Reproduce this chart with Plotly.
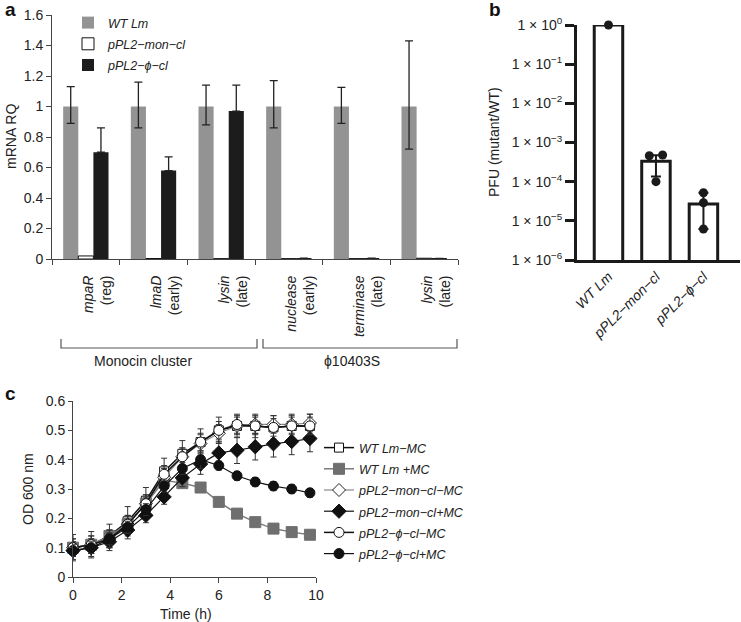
import plotly.graph_objects as go
import numpy as np

W, H = 741, 622
FONT = "Liberation Sans, Arial, Helvetica, sans-serif"

# ---------------- Panel a data ----------------
genes = ["mpaR", "lmaD", "lysin", "nuclease", "terminase", "lysin"]
stages = ["(reg)", "(early)", "(late)", "(early)", "(late)", "(late)"]
wt_rq = [1.0, 1.0, 1.0, 1.0, 1.0, 1.0]
wt_err_plus = [0.13, 0.16, 0.14, 0.17, 0.125, 0.43]
wt_err_minus = [0.11, 0.14, 0.12, 0.14, 0.11, 0.28]
mon_rq = [0.02, 0.003, 0.002, 0.002, 0.002, 0.005]
phi_rq = [0.70, 0.58, 0.97, 0.006, 0.005, 0.004]
phi_err = [0.16, 0.09, 0.17, 0.0, 0.0, 0.0]
group_names = ["Monocin cluster", "ϕ10403S"]

# ---------------- Panel b data ----------------
strains_b = ["WT Lm", "pPL2−mon−cl", "pPL2−ϕ−cl"]
pfu_mean = [1.0, 3.3e-4, 2.7e-5]
pfu_upper = [1.0, 4.7e-4, 5.2e-5]
pfu_lower = [1.0, 1.35e-4, 6.2e-6]
pfu_reps = [[1.0], [4.6e-4, 4.8e-4, 1.0e-4], [5.2e-5, 2.9e-5, 6.2e-6]]
pfu_ticks = [1e-6, 1e-5, 1e-4, 1e-3, 1e-2, 1e-1, 1e0]
pfu_ticktext = ["1 × 10<sup>−6</sup>", "1 × 10<sup>−5</sup>", "1 × 10<sup>−4</sup>",
                "1 × 10<sup>−3</sup>", "1 × 10<sup>−2</sup>", "1 × 10<sup>−1</sup>",
                "1 × 10<sup>0</sup>"]

# ---------------- Panel c data ----------------
time_h = [0, 0.75, 1.5, 2.25, 3, 3.75, 4.5, 5.25, 6, 6.75, 7.5, 8.25, 9, 9.75]
od_wt_minus = [0.10, 0.11, 0.14, 0.19, 0.26, 0.36, 0.42, 0.46, 0.50, 0.515, 0.515, 0.51, 0.515, 0.515]
od_wt_plus = [0.10, 0.11, 0.14, 0.18, 0.25, 0.33, 0.32, 0.305, 0.256, 0.216, 0.187, 0.165, 0.153, 0.144]
od_mon_minus = [0.10, 0.11, 0.13, 0.18, 0.25, 0.34, 0.41, 0.455, 0.49, 0.515, 0.52, 0.52, 0.52, 0.525]
od_mon_plus = [0.09, 0.10, 0.12, 0.16, 0.21, 0.273, 0.338, 0.385, 0.423, 0.432, 0.444, 0.454, 0.462, 0.472]
od_phi_minus = [0.10, 0.11, 0.13, 0.18, 0.25, 0.35, 0.41, 0.46, 0.50, 0.52, 0.515, 0.51, 0.515, 0.515]
od_phi_plus = [0.09, 0.10, 0.13, 0.17, 0.23, 0.31, 0.37, 0.40, 0.38, 0.345, 0.324, 0.31, 0.30, 0.287]
err_wt_minus = [0.045, 0.045, 0.04, 0.05, 0.045, 0.045, 0.045, 0.045, 0.045, 0.04, 0.04, 0.04, 0.04, 0.04]
err_wt_plus = [0.02, 0.02, 0.02, 0.02, 0.02, 0.02, 0.015, 0.015, 0.015, 0.015, 0.015, 0.015, 0.015, 0.015]
err_mon_minus = [0.03, 0.03, 0.03, 0.03, 0.03, 0.03, 0.03, 0.03, 0.03, 0.03, 0.03, 0.03, 0.03, 0.03]
err_mon_plus = [0.03, 0.03, 0.03, 0.03, 0.025, 0.025, 0.03, 0.035, 0.04, 0.045, 0.045, 0.045, 0.045, 0.045]
err_phi_minus = [0.03, 0.03, 0.03, 0.03, 0.03, 0.03, 0.03, 0.03, 0.03, 0.03, 0.03, 0.03, 0.03, 0.03]
err_phi_plus = [0.02, 0.02, 0.02, 0.02, 0.02, 0.02, 0.02, 0.03, 0.015, 0.015, 0.015, 0.015, 0.015, 0.015]
legend_c = ["WT Lm−MC", "WT Lm +MC", "pPL2−mon−cl−MC", "pPL2−mon−cl+MC", "pPL2−ϕ−cl−MC", "pPL2−ϕ−cl+MC"]


def px_x(p):
    return p / W


def px_y(p):
    return 1 - p / H


def leg_name(s):
    return "<span style='font-size:12.5px'><i>%s</i></span>" % s


fig = go.Figure()

# ---------- Panel a ----------
idx_a = list(range(len(genes)))
ERR_A = dict(color="#222", thickness=1.3, width=4)
fig.add_trace(go.Bar(x=idx_a, y=wt_rq, name=leg_name("WT Lm"), marker=dict(color="#939393", line=dict(width=0)),
                     error_y=dict(type="data", array=wt_err_plus, arrayminus=wt_err_minus, symmetric=False, **ERR_A),
                     xaxis="x", yaxis="y", legend="legend"))
fig.add_trace(go.Bar(x=idx_a, y=mon_rq, name=leg_name("pPL2−mon−cl"),
                     marker=dict(color="white", line=dict(color="#111", width=1)),
                     xaxis="x", yaxis="y", legend="legend"))
fig.add_trace(go.Bar(x=idx_a, y=phi_rq, name=leg_name("pPL2−ϕ−cl"), marker=dict(color="#1c1c1c", line=dict(width=0)),
                     error_y=dict(type="data", array=phi_err, arrayminus=[0] * 6, symmetric=False, **ERR_A),
                     xaxis="x", yaxis="y", legend="legend"))

# ---------- Panel b ----------
idx_b = list(range(len(strains_b)))
fig.add_trace(go.Bar(x=idx_b, y=pfu_mean, width=0.6, marker=dict(color="white", line=dict(color="#1a1a1a", width=3)),
                     error_y=dict(type="data", symmetric=False,
                                  array=[u - m for u, m in zip(pfu_upper, pfu_mean)],
                                  arrayminus=[m - l for m, l in zip(pfu_mean, pfu_lower)],
                                  color="#1a1a1a", thickness=2, width=5),
                     xaxis="x2", yaxis="y2", showlegend=False))
JITTER = {1: [-0.14, 0.14, 0.0]}
dx, dy = [], []
for i, reps in enumerate(pfu_reps):
    offs = JITTER.get(i, [0.0] * len(reps))
    for o, v in zip(offs, reps):
        dx.append(i + o)
        dy.append(v)
fig.add_trace(go.Scatter(x=dx, y=dy, mode="markers", marker=dict(color="#1a1a1a", size=9),
                         cliponaxis=False, xaxis="x2", yaxis="y2", showlegend=False))

# ---------- Panel c ----------
series_c = [
    (od_wt_minus, err_wt_minus, dict(symbol="square", size=9, color="white", line=dict(color="#111", width=1)), dict(color="#111", width=1.5)),
    (od_wt_plus, err_wt_plus, dict(symbol="square", size=11, color="#6f6f6f", line=dict(color="#6f6f6f", width=1)), dict(color="#7a7a7a", width=1.5)),
    (od_mon_minus, err_mon_minus, dict(symbol="diamond", size=10, color="white", line=dict(color="#222", width=1)), dict(color="#8a8a8a", width=1.2)),
    (od_mon_plus, err_mon_plus, dict(symbol="diamond", size=11, color="#111", line=dict(color="#111", width=1)), dict(color="#111", width=1.2)),
    (od_phi_minus, err_phi_minus, dict(symbol="circle", size=10, color="white", line=dict(color="#111", width=1)), dict(color="#111", width=1.5)),
    (od_phi_plus, err_phi_plus, dict(symbol="circle", size=10, color="#111", line=dict(color="#111", width=1)), dict(color="#111", width=1.2)),
]
for (vals, errs, mk, ln), name in zip(series_c, legend_c):
    fig.add_trace(go.Scatter(x=time_h, y=vals, mode="lines+markers", name=leg_name(name),
                             marker=mk, line=ln, cliponaxis=False,
                             error_y=dict(type="data", array=errs, color="#333", thickness=1, width=3),
                             xaxis="x3", yaxis="y3", legend="legend2"))

AX = dict(showgrid=False, zeroline=False, showline=True, ticks="outside", automargin=False,
          tickfont=dict(family=FONT, size=14, color="#222"))

fig.update_layout(
    width=W, height=H, margin=dict(l=0, r=0, t=0, b=0, pad=0, autoexpand=False),
    paper_bgcolor="white", plot_bgcolor="white",
    font=dict(family=FONT, size=14, color="#222"),
    barmode="group", bargap=0.33, bargroupgap=0,
    xaxis=dict(AX, domain=[px_x(52), px_x(458)], range=[-0.5, 5.5], anchor="y",
               tickmode="array", tickvals=idx_a,
               ticktext=["<i>%s</i><br>%s" % (g, s) for g, s in zip(genes, stages)],
               ticks="", tickangle=-90, linecolor="#444", linewidth=1, ticklabelshift=12, ticklabelstandoff=10,
               minor=dict(tickmode="linear", tick0=-0.5, dtick=1, ticks="outside", ticklen=5, tickcolor="#444")),
    yaxis=dict(AX, domain=[px_y(259), px_y(15)], range=[0, 1.6], anchor="x",
               tickvals=[0, 0.2, 0.4, 0.6, 0.8, 1.0, 1.2, 1.4, 1.6],
               linecolor="#444", linewidth=1, ticklen=5, tickcolor="#444"),
    xaxis2=dict(AX, domain=[px_x(577), px_x(740)], range=[-0.663, 2.77], anchor="y2",
                tickmode="array", tickvals=idx_b, ticktext=["<i>%s</i>" % s for s in strains_b],
                ticks="", tickangle=-45, linecolor="#1a1a1a", linewidth=3),
    yaxis2=dict(AX, domain=[px_y(260), px_y(25)], type="log", range=[-6, 0], anchor="x2",
                tickmode="array", tickvals=pfu_ticks, ticktext=pfu_ticktext,
                linecolor="#1a1a1a", linewidth=3, ticklen=9, tickwidth=3, tickcolor="#1a1a1a",
                tickfont=dict(family=FONT, size=14, color="#222")),
    xaxis3=dict(AX, domain=[px_x(73), px_x(316)], range=[0, 10], anchor="y3",
                tickvals=[0, 2, 4, 6, 8, 10], linecolor="#444", linewidth=1, ticklen=5, tickcolor="#444"),
    yaxis3=dict(AX, domain=[px_y(577), px_y(401)], range=[0, 0.6], anchor="x3",
                tickvals=[0, 0.1, 0.2, 0.3, 0.4, 0.5, 0.6], linecolor="#444", linewidth=1, ticklen=4, tickcolor="#444"),
    legend=dict(x=px_x(68), y=px_y(7), xanchor="left", yanchor="top", bgcolor="rgba(0,0,0,0)",
                font=dict(family=FONT, size=14, color="#222"), tracegroupgap=0),
    legend2=dict(x=px_x(319), y=px_y(432), xanchor="left", yanchor="top", bgcolor="rgba(0,0,0,0)",
                 font=dict(family=FONT, size=14, color="#222"), tracegroupgap=0),
)

C = dict(xref="paper", yref="paper", showarrow=False, xanchor="center", yanchor="middle")
ann = []
# panel letters
for t, x, y in [("a", 3, 10), ("b", 487, 10), ("c", 3, 393)]:
    ann.append(dict(C, text="<b>%s</b>" % t, x=px_x(x), y=px_y(y), xanchor="left",
                    font=dict(family=FONT, size=19, color="#111")))
# axis titles
ann.append(dict(C, text="mRNA RQ", x=px_x(11), y=px_y(137), textangle=-90,
                font=dict(family=FONT, size=14, color="#222")))
ann.append(dict(C, text="PFU (mutant/WT)", x=px_x(494), y=px_y(142), textangle=-90,
                font=dict(family=FONT, size=14, color="#222")))
ann.append(dict(C, text="OD 600 nm", x=px_x(28), y=px_y(489), textangle=-90,
                font=dict(family=FONT, size=14, color="#222")))
ann.append(dict(C, text="Time (h)", x=px_x(186), y=px_y(614),
                font=dict(family=FONT, size=14, color="#222")))
# bracket labels
ann.append(dict(C, text=group_names[0], x=px_x(143), y=px_y(361),
                font=dict(family=FONT, size=14, color="#222")))
ann.append(dict(C, text=group_names[1], x=px_x(352), y=px_y(361),
                font=dict(family=FONT, size=14, color="#222")))
fig.update_layout(annotations=ann)

shapes = []
for x0, x1 in [(61, 257), (263, 457)]:
    shapes.append(dict(type="path", xref="paper", yref="paper",
                       path="M %f,%f L %f,%f L %f,%f L %f,%f" % (px_x(x0), px_y(339), px_x(x0), px_y(348),
                                                                 px_x(x1), px_y(348), px_x(x1), px_y(339)),
                       line=dict(color="#555", width=1.2)))
fig.update_layout(shapes=shapes)

fig.write_html("out.html", config={"displayModeBar": False},
               post_script="document.body.style.margin='0';document.body.style.overflow='hidden';")
